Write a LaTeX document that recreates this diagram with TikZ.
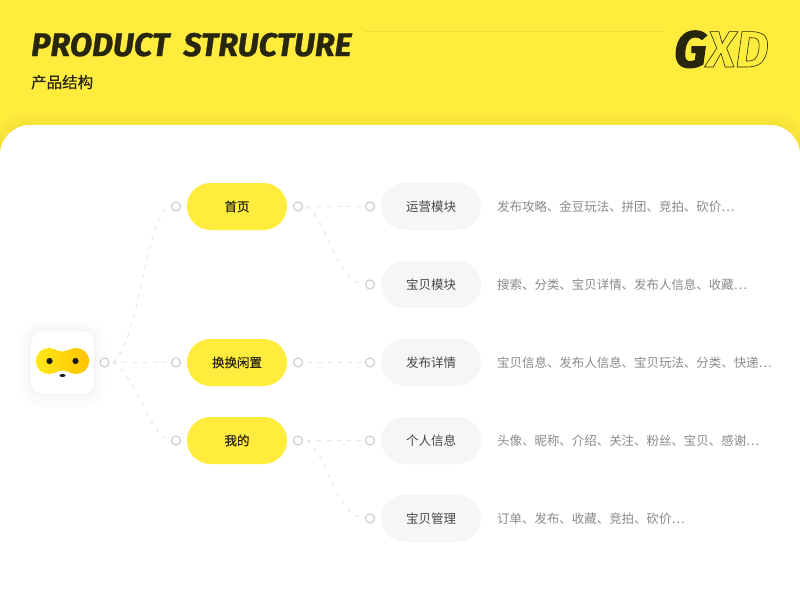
\documentclass[tikz,border=0pt]{standalone}
\usepackage{fontspec}
\usetikzlibrary{calc}
\newfontfamily\cjk{Noto Sans CJK SC}
\newfontfamily\titlefont[WordSpace=1.9]{Fira Sans}
\definecolor{brandyellow}{HTML}{FFEC3D}
\definecolor{shadeyellow}{HTML}{EFDC38}
\definecolor{inkdark}{HTML}{29260F}
\definecolor{dotgray}{HTML}{D2D2D2}
\definecolor{linkgray}{HTML}{E6E6E6}
\definecolor{pillgray}{HTML}{F5F6F8}
\definecolor{textgray}{HTML}{8A8A8A}
\definecolor{maskleft}{HTML}{FFE81A}
\definecolor{maskright}{HTML}{FFC400}
\newcommand{\outlinetext}[1]{\special{pdf:code q 1 Tr 0.6 w}#1\special{pdf:code Q}}
\newcommand{\strongtext}[2]{\special{pdf:code q 2 Tr #1 w}#2\special{pdf:code Q}}
\tikzset{
  toppill/.style={fill=brandyellow,rounded corners=23.5pt,minimum width=100pt,minimum height=47pt,inner sep=0pt,text=inkdark,font=\cjk\fontsize{12.5}{15}\selectfont},
  subpill/.style={fill=pillgray,rounded corners=23.5pt,minimum width=100pt,minimum height=47pt,inner sep=0pt,text=black!72,font=\cjk\fontsize{12.5}{15}\selectfont},
  portdot/.style={circle,draw=dotgray,fill=white,line width=1.3pt,minimum size=9pt,inner sep=0pt},
  link/.style={draw=linkgray,line width=1pt,dash pattern=on 4pt off 6pt},
  detail/.style={anchor=west,inner sep=0pt,text=textgray,font=\cjk\fontsize{12.45}{15}\selectfont}
}
\begin{document}
\begin{tikzpicture}[x=1pt,y=-1pt]
    \useasboundingbox (0,0) rectangle (800,600);
    % header and card
    \fill[brandyellow] (0,0) rectangle (800,600);
    \fill[black,opacity=0.006,rounded corners=44pt] (-14,600) -- (-14,111) -- (814,111) -- (814,600) -- cycle;
    \fill[black,opacity=0.008,rounded corners=41pt] (-11,600) -- (-11,114) -- (811,114) -- (811,600) -- cycle;
    \fill[black,opacity=0.008,rounded corners=38pt] (-8,600) -- (-8,117) -- (808,117) -- (808,600) -- cycle;
    \fill[black,opacity=0.008,rounded corners=35pt] (-5,600) -- (-5,120) -- (805,120) -- (805,600) -- cycle;
    \fill[black,opacity=0.008,rounded corners=32pt] (-2,600) -- (-2,123) -- (802,123) -- (802,600) -- cycle;
    \fill[white] (0,600) [rounded corners=30pt] -- (0,125) -- (800,125) [sharp corners] -- (800,600) -- cycle;
    \node[anchor=base west,inner sep=0pt,text=inkdark,font=\titlefont\bfseries\itshape\fontsize{32.6}{33}\selectfont] (title) at (31,56) {\strongtext{0.3}{PRODUCT STRUCTURE}};
    \node[anchor=base west,inner sep=0pt,text=inkdark,font=\cjk\fontsize{15.5}{18}\selectfont] (subtitle) at (31,88) {\strongtext{0.08}{产品结构}};
    \draw[shadeyellow,line width=0.8pt] (365,31) -- (662,31);
    \node[anchor=base west,inner sep=0pt,text=inkdark,font=\titlefont\bfseries\itshape\fontsize{51}{51}\selectfont] (logo) at (674,67) {\strongtext{1.2}{G}\outlinetext{XD}};
    % app icon
    \fill[black,opacity=0.006,rounded corners=20pt] (19,320) rectangle (106,408);
    \fill[black,opacity=0.008,rounded corners=18pt] (23,324) rectangle (102,404);
    \fill[black,opacity=0.01,rounded corners=16pt] (26,327) rectangle (99,400);
    \fill[black,opacity=0.012,rounded corners=14pt] (29,330) rectangle (96,397);
    \node[fill=white,rounded corners=12pt,minimum size=63pt,inner sep=0pt] (appicon) at (62.5,362.5) {};
    \shade[left color=maskleft,right color=maskright] (36,361) .. controls (36,353) and (42,348) .. (49,348) .. controls (54,348) and (58,351.5) .. (62.5,351.5) .. controls (67,351.5) and (71,348) .. (76,348) .. controls (83,348) and (89,353) .. (89,361) .. controls (89,369) and (83,374) .. (76,374) .. controls (71,374) and (67,370.5) .. (62.5,370.5) .. controls (58,370.5) and (54,374) .. (49,374) .. controls (42,374) and (36,369) .. (36,361) -- cycle;
    \fill[black!90] (49.5,361) circle (3.1pt);
    \fill[black!90] (75.5,361) circle (3.1pt);
    \fill[black!90] (62.5,375.5) ellipse (3pt and 1.5pt);
    % first level
    \node[toppill] (home) at (237,206.5) {\strongtext{0.08}{首页}};
    \node[toppill] (swap) at (237,362.5) {\strongtext{0.08}{换换闲置}};
    \node[toppill] (mine) at (237,440.5) {\strongtext{0.08}{我的}};
    % second level
    \node[subpill] (operate) at (431,206.5) {运营模块};
    \node[subpill] (goods) at (431,284.5) {宝贝模块};
    \node[subpill] (publish) at (431,362.5) {发布详情};
    \node[subpill] (profile) at (431,440.5) {个人信息};
    \node[subpill] (manage) at (431,518.5) {宝贝管理};
    % details
    \node[detail] (operatetext) at (497,206.5) {发布攻略、金豆玩法、拼团、竞拍、砍价…};
    \node[detail] (goodstext) at (497,284.5) {搜索、分类、宝贝详情、发布人信息、收藏…};
    \node[detail] (publishtext) at (497,362.5) {宝贝信息、发布人信息、宝贝玩法、分类、快递…};
    \node[detail] (profiletext) at (497,440.5) {头像、昵称、介绍、关注、粉丝、宝贝、感谢…};
    \node[detail] (managetext) at (497,518.5) {订单、发布、收藏、竞拍、砍价…};
    % dots
    \node[portdot] (rootdot) at (104.5,362.5) {};
    \node[portdot] (homein) at (176,206.5) {};
    \node[portdot] (swapin) at (176,362.5) {};
    \node[portdot] (minein) at (176,440.5) {};
    \node[portdot] (homeout) at (298,206.5) {};
    \node[portdot] (swapout) at (298,362.5) {};
    \node[portdot] (mineout) at (298,440.5) {};
    \node[portdot] (operatein) at (370,206.5) {};
    \node[portdot] (goodsin) at (370,284.5) {};
    \node[portdot] (publishin) at (370,362.5) {};
    \node[portdot] (profilein) at (370,440.5) {};
    \node[portdot] (managein) at (370,518.5) {};
    % links
    \coordinate (rootstart) at (113,362.5);
    \coordinate (homestart) at (307,206.5);
    \coordinate (minestart) at (307,440.5);
    \draw[link] (rootstart) .. controls (140,340) and (145,216) .. ($(homein.west)+(-1,0)$);
    \draw[link] (rootstart) -- ($(swapin.west)+(-1,0)$);
    \draw[link] (rootstart) .. controls (140,380) and (145,430) .. ($(minein.west)+(-1,0)$);
    \draw[link] (homestart) -- ($(operatein.west)+(-1,0)$);
    \draw[link] (homestart) .. controls (330,225) and (335,280) .. ($(goodsin.west)+(-1,0)$);
    \draw[link] ($(swapout.east)+(5,0)$) -- ($(publishin.west)+(-1,0)$);
    \draw[link] (minestart) -- ($(profilein.west)+(-1,0)$);
    \draw[link] (minestart) .. controls (330,459) and (335,514) .. ($(managein.west)+(-1,0)$);
\end{tikzpicture}
\end{document}
